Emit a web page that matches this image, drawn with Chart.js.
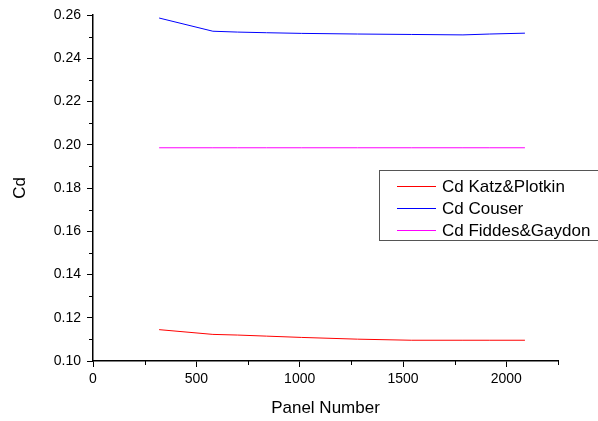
<!DOCTYPE html>
<html>
<head>
<meta charset="utf-8">
<script src="https://cdn.jsdelivr.net/npm/chart.js@4/dist/chart.umd.min.js"></script>
<style>
  html, body { margin: 0; padding: 0; background: #fff; }
  #wrap { width: 598px; height: 421px; }
</style>
</head>
<body>
<div id="wrap"><canvas id="chart"></canvas></div>
<script>
const panels = [320, 580, 700, 840, 1010, 1280, 1540, 1790, 1920, 2090]
const katzPlotkin = [0.1145, 0.1123, 0.1120, 0.1115, 0.1109, 0.1101, 0.1096, 0.1096, 0.1096, 0.1096]
const couser = [0.2586, 0.2525, 0.2521, 0.2518, 0.2515, 0.2512, 0.2510, 0.2508, 0.2512, 0.2516]
const fiddesGaydon = [0.1986, 0.1986, 0.1986, 0.1986, 0.1986, 0.1986, 0.1986, 0.1986, 0.1986, 0.1986]
const seriesNames = ['Cd Katz&Plotkin', 'Cd Couser', 'Cd Fiddes&Gaydon']
const seriesColors = ['#ff0000', '#0000ff', '#ff00ff']
const xTitle = 'Panel Number'
const yTitle = 'Cd'

const FONT = '"Liberation Sans", Arial, sans-serif'

const toPoints = (values) => panels.map((p, i) => ({ x: p, y: values[i] }))

const datasets = [katzPlotkin, couser, fiddesGaydon].map((values, i) => ({
  label: seriesNames[i],
  data: toPoints(values),
  borderColor: seriesColors[i],
  backgroundColor: seriesColors[i],
  borderWidth: 1,
  pointRadius: 0,
  tension: 0,
  fill: false
}))

const isMajorX = (v) => Math.abs(v % 500) < 1e-6

// short minor ticks between the labelled ones
const minorTicks = {
  id: 'minorTicks',
  afterDraw (chart) {
    const { ctx, scales: { x, y } } = chart
    ctx.save()
    ctx.strokeStyle = '#000'
    ctx.lineWidth = 1
    ctx.beginPath()
    for (let v = 250; v <= 2250; v += 500) {
      const px = Math.round(x.getPixelForValue(v)) + 0.5
      ctx.moveTo(px, y.bottom)
      ctx.lineTo(px, y.bottom + 4)
    }
    for (let v = 0.11; v < 0.26; v += 0.02) {
      const py = Math.round(y.getPixelForValue(v)) + 0.5
      ctx.moveTo(x.left, py)
      ctx.lineTo(x.left - 4, py)
    }
    ctx.stroke()
    ctx.restore()
  }
}

// boxed legend sitting over the right side of the plot
const boxLegend = {
  id: 'boxLegend',
  afterDraw (chart) {
    const ctx = chart.ctx
    const left = 379.5
    const top = 170.5
    ctx.save()
    ctx.fillStyle = '#fff'
    ctx.fillRect(left, top, 240, 70)
    ctx.strokeStyle = '#555'
    ctx.lineWidth = 1
    ctx.strokeRect(left, top, 240, 70)
    ctx.font = '17px ' + FONT
    ctx.textBaseline = 'middle'
    chart.data.datasets.forEach((ds, i) => {
      const yy = Math.round(top + 15 + i * 22) + 0.5
      ctx.strokeStyle = ds.borderColor
      ctx.beginPath()
      ctx.moveTo(397, yy)
      ctx.lineTo(436, yy)
      ctx.stroke()
      ctx.fillStyle = '#000'
      ctx.fillText(ds.label, 442, yy + 1)
    })
    ctx.restore()
  }
}

new Chart(document.querySelector('#chart'), {
  type: 'line',
  data: { datasets },
  options: {
    responsive: true,
    maintainAspectRatio: false,
    animation: false,
    layout: { padding: { top: 15, right: 40, left: 0, bottom: 0 } },
    plugins: {
      legend: { display: false },
      tooltip: { enabled: false }
    },
    scales: {
      x: {
        type: 'linear',
        min: 0,
        max: 2250,
        afterFit: (scale) => { scale.height = 60 },
        ticks: {
          stepSize: 250,
          autoSkip: false,
          color: '#000',
          padding: 4,
          maxRotation: 0,
          font: { family: FONT, size: 14 },
          callback: (v) => isMajorX(v) ? String(v) : ''
        },
        grid: {
          drawOnChartArea: false,
          tickLength: 6,
          tickColor: (ctx) => ctx.tick && isMajorX(ctx.tick.value) ? '#000' : 'rgba(0,0,0,0)'
        },
        border: { color: '#000', width: 1.5 },
        title: {
          display: true,
          text: xTitle,
          color: '#000',
          font: { family: FONT, size: 17 },
          padding: { top: 0, bottom: 2 }
        }
      },
      y: {
        min: 0.10,
        max: 0.26,
        afterFit: (scale) => { scale.width = 93 },
        ticks: {
          stepSize: 0.02,
          color: '#000',
          padding: 6,
          font: { family: FONT, size: 14 },
          callback: (v) => Number(v).toFixed(2)
        },
        grid: { drawOnChartArea: false, tickLength: 6, tickColor: '#000' },
        border: { color: '#000', width: 1.5 },
        title: {
          display: true,
          text: yTitle,
          color: '#000',
          font: { family: FONT, size: 17 },
          padding: { top: 10, bottom: 0 }
        }
      }
    }
  },
  plugins: [minorTicks, boxLegend]
})
</script>
</body>
</html>
